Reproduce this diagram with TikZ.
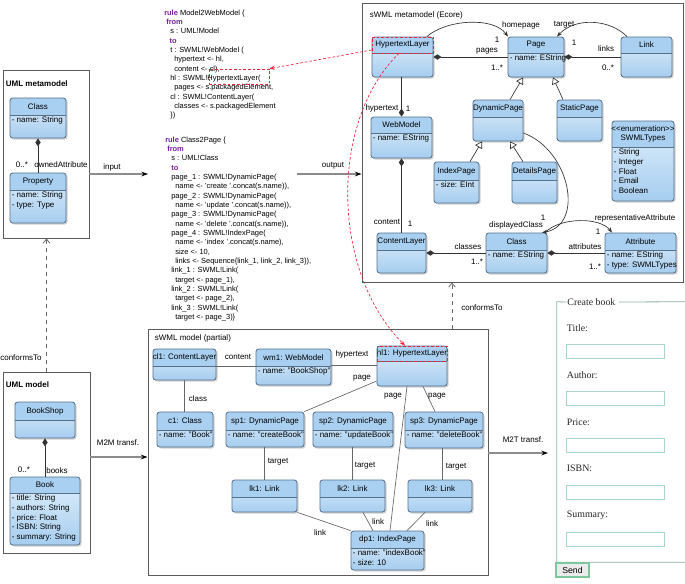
\documentclass[tikz,border=0pt]{standalone}
\usepackage{fontspec}
\setmainfont{Liberation Sans}
\newfontfamily\formfont{Liberation Serif}
\usetikzlibrary{arrows.meta,fit}
\definecolor{bordc}{HTML}{56708C}
\definecolor{hdrc}{HTML}{A9D0F1}
\definecolor{bodyt}{HTML}{E0EFFB}
\definecolor{bodyb}{HTML}{A6CDEF}
\definecolor{kwc}{HTML}{7B1FA2}
\definecolor{boxc}{HTML}{5A5A5A}
\definecolor{formc}{HTML}{8FB0AC}
\definecolor{inputc}{HTML}{A9D3CD}
\definecolor{sendc}{HTML}{7CC79E}
\definecolor{redc}{HTML}{F0203A}
\newcommand\fs{\fontsize{6}{7.3}\selectfont}
\newcommand\csz{\fontsize{5.6}{7}\selectfont}
\newcommand\kw[1]{\textcolor{kwc}{\bfseries #1}}
\newcommand\ubox[8]{%
\fill[black!18, rounded corners=2pt] ({#2+1.5},{#3+1.5}) rectangle ({#4+1.5},{#5+1.5});
\begin{scope}
\clip[rounded corners=2pt] (#2,#3) rectangle (#4,#5);
\shade[top color=bodyt,bottom color=bodyb] (#2,#3) rectangle (#4,#5);
\fill[hdrc] (#2,#3) rectangle (#4,#6);
\end{scope}
\node[umlb, fit={(#2,#3)(#4,#5)}] (#1) {};
\draw[bordc, line width=0.5pt] (#2,#6) -- (#4,#6);
\node[lbl, align=center] (#1t) at ({(#2+#4)/2},{(#3+#6)/2}) {#7};
\node[lbl, anchor=north west, align=left, inner sep=1.2pt] (#1a) at (#2,#6) {#8};
}
\newcommand\lab[4]{\node[lbl] (#1) at (#2,#3) {#4};}
\tikzset{
 umlb/.style={draw=bordc, line width=0.6pt, rounded corners=2pt, inner sep=0pt},
 lbl/.style={font=\fs, inner sep=0.5pt},
 cont/.style={draw=boxc, line width=0.7pt, inner sep=0pt},
 flow/.style={draw=black!45, line width=0.9pt, -{Stealth[color=black,length=5pt,width=3.5pt]}},
 mline/.style={draw=black!80, line width=0.5pt},
 comp/.style={mline, {Diamond[length=6pt,width=4pt]}-},
 compend/.style={mline, -{Diamond[length=6pt,width=4pt]}},
 inh/.style={mline, -{Triangle[open,length=5pt,width=6pt,fill=white]}},
 assoc/.style={mline, -{Stealth[length=4pt,width=3pt]}},
 inst/.style={draw=black!60, line width=0.5pt},
 conf/.style={draw=black!60, dashed, line width=0.6pt, -{Straight Barb[length=3pt,width=5pt]}},
 redd/.style={draw=redc, line width=0.5pt, dash pattern=on 2pt off 1.5pt},
 inp/.style={draw=inputc, line width=0.6pt, fill=white, inner sep=0pt},
 formt/.style={font=\formfont\fontsize{7.4}{8}\selectfont, text=black!85, inner sep=0.5pt},
}
\begin{document}
\begin{tikzpicture}[x=0.75pt,y=-0.75pt]
\useasboundingbox (0,0) rectangle (685,583);
\fill[white] (0,0) rectangle (685,583);
% containers
\node[cont, fit={(3,70)(89,238)}] (umlmm) {};
\node[cont, fit={(3,372)(90,553)}] (umlm) {};
\node[cont, fit={(362,3)(683,282)}] (swmlmm) {};
\node[cont, fit={(148,329)(488,575)}] (swm) {};
\node[lbl, anchor=west, font=\fs\bfseries] (t1) at (5,84) {UML metamodel};
\node[lbl, anchor=west, font=\fs\bfseries] (t2) at (5,385) {UML model};
\node[lbl, anchor=west] (t3) at (369,15) {sWML metamodel (Ecore)};
\node[lbl, anchor=west] (t4) at (154,338) {sWML model (partial)};
% UML metamodel
\ubox{mClass}{10}{98}{66}{138}{115}{Class}{- name: String}
\ubox{mProp}{10}{173}{66}{223}{190}{Property}{- name: String\\- type: Type}
\draw[comp] (mClass.south) -- (mProp.north);
\lab{l1}{22}{165}{0..*}
\lab{l2}{61}{165}{ownedAttribute}
% UML model
\ubox{bShop}{15}{402}{75}{438}{420}{BookShop}{}
\ubox{bBook}{10}{477}{80}{545}{493}{Book}{- title: String\\- authors: String\\- price: Float\\- ISBN: String\\- summary: String}
\draw[comp] (bShop.south) -- (bShop.south |- bBook.north);
\lab{l3}{24}{470}{0..*}
\lab{l4}{57}{471}{books}
% flows
\coordinate (inEnd) at (148,174);
\draw[flow] (umlmm.east |- inEnd) -- (inEnd);
\lab{l5}{112}{167}{input}
\coordinate (outStart) at (297,174);
\draw[flow] (outStart) -- (swmlmm.west |- outStart);
\lab{l6}{333}{166}{output}
\coordinate (m2m) at (120,457);
\draw[flow] (umlm.east |- m2m) -- (swm.west |- m2m);
\lab{l7}{118}{443}{M2M transf.}
\coordinate (m2tEnd) at (548,453);
\draw[flow] (swm.east |- m2tEnd) -- (m2tEnd);
\lab{l8}{523}{440}{M2T transf.}
\draw[conf] (umlm.north) -- (umlm.north |- umlmm.south);
\lab{l9}{21}{358}{conformsTo}
\coordinate (cf2) at (452,300);
\draw[conf] (swm.north -| cf2) -- (swmlmm.south -| cf2);
\lab{l10}{482}{308}{conformsTo}
% code
\node[font=\csz, anchor=north west, inner sep=0pt, align=left] (code1) at (164,9.5) {%
\kw{rule} Model2WebModel \{\\
\hspace*{1.5pt}\kw{from}\\
\hspace*{4.5pt}s : UML!Model\\
\hspace*{4pt}\kw{to}\\
\hspace*{4.5pt}t : SWML!WebModel (\\
\hspace*{7.5pt}hypertext <- hl,\\
\hspace*{7.5pt}content <- cl),\\
\hspace*{4.5pt}hl : SWML!HypertextLayer(\\
\hspace*{7.5pt}pages <- s.packagedElement,\\
\hspace*{4.5pt}cl : SWML!ContentLayer(\\
\hspace*{7.5pt}classes <- s.packagedElement\\
\hspace*{4.5pt}\})};
\node[font=\csz, anchor=north west, inner sep=0pt, align=left] (code2) at (165,136.5) {%
\kw{rule} Class2Page \{\\
\hspace*{1.5pt}\kw{from}\\
\hspace*{4.5pt}s : UML!Class\\
\hspace*{4.5pt}\kw{to}\\
\hspace*{4.5pt}page\_1 : SWML!DynamicPage(\\
\hspace*{7.5pt}name <- 'create '.concat(s.name)),\\
\hspace*{4.5pt}page\_2 : SWML!DynamicPage(\\
\hspace*{7.5pt}name <- 'update '.concat(s.name)),\\
\hspace*{4.5pt}page\_3 : SWML!DynamicPage(\\
\hspace*{7.5pt}name <- 'delete '.concat(s.name)),\\
\hspace*{4.5pt}page\_4 : SWML!IndexPage(\\
\hspace*{7.5pt}name <- 'index '.concat(s.name),\\
\hspace*{7.5pt}size <- 10,\\
\hspace*{7.5pt}links <- Sequence\{link\_1, link\_2, link\_3\}),\\
\hspace*{4.5pt}link\_1 : SWML!Link(\\
\hspace*{7.5pt}target <- page\_1),\\
\hspace*{4.5pt}link\_2 : SWML!Link(\\
\hspace*{7.5pt}target <- page\_2),\\
\hspace*{4.5pt}link\_3 : SWML!Link(\\
\hspace*{7.5pt}target <- page\_3)\}};
% sWML metamodel
\ubox{htl}{372}{37}{433}{77}{53}{HypertextLayer}{}
\ubox{page}{508}{37}{564}{77}{53}{Page}{- name: EString}
\ubox{link}{621}{37}{672}{77}{53}{Link}{}
\ubox{webm}{371}{117}{432}{158}{133}{WebModel}{- name: EString}
\ubox{dynp}{473}{100}{523}{141}{117}{DynamicPage}{}
\ubox{statp}{557}{100}{602}{141}{117}{StaticPage}{}
\ubox{idxp}{434}{162}{479}{203}{180}{IndexPage}{- size: EInt}
\ubox{detp}{512}{162}{557}{203}{180}{DetailsPage}{}
\ubox{swt}{612}{121}{674}{201}{147}{<{}<enumeration>{}>\\SWMLTypes}{- String\\- Integer\\- Float\\- Email\\- Boolean}
\ubox{conl}{377}{233}{426}{273}{250}{ContentLayer}{}
\ubox{clsm}{486}{233}{547}{273}{250}{Class}{- name: EString}
\ubox{attr}{605}{233}{676}{273}{250}{Attribute}{- name: EString\\- type: SWMLTypes}
\draw[comp] (htl.east) -- (page.west);
\draw[comp] (page.east) -- (link.west);
\draw[compend] (htl.south -| webm.north) -- (webm.north);
\draw[comp] (webm.south) -- (webm.south |- conl.north);
\draw[comp] (conl.east) -- (clsm.west);
\draw[comp] (clsm.east) -- (attr.west);
\draw[inh] (dynp.north -| 510,0) -- (page.south -| 523,0);
\draw[inh] (statp.north -| 563,0) -- (page.south -| 553,0);
\draw[inh] (idxp.north -| 470,0) -- (dynp.south -| 482,0);
\draw[inh] (detp.north -| 523,0) -- (dynp.south -| 510,0);
\draw[assoc] (htl.north -| 427,0) .. controls (445,20) and (493,16) .. (page.north -| 508,0);
\draw[assoc] (link.north -| 627,0) .. controls (610,19) and (575,17) .. (page.north -| 557,0);
\draw[assoc] (dynp.east |- 0,133) .. controls (570,150) and (585,225) .. (clsm.north -| 542,0);
\draw[assoc] (clsm.north -| 545,0) .. controls (560,217) and (600,217) .. (attr.north -| 612,0);
\lab{m1}{521}{25}{homepage}
\lab{m2}{564}{25}{target}
\lab{m3}{497}{40}{1}
\lab{m4}{487}{51}{pages}
\lab{m5}{497}{68}{1..*}
\lab{m6}{574}{43}{1}
\lab{m7}{606}{49}{links}
\lab{m8}{608}{68}{0..*}
\lab{m9}{382}{108}{hypertext}
\lab{m10}{408}{109}{1}
\lab{m11}{387}{222}{content}
\lab{m12}{410}{224}{1}
\lab{m13}{468}{247}{classes}
\lab{m14}{477}{262}{1..*}
\lab{m15}{516}{225}{displayedClass}
\lab{m16}{543}{218}{1}
\lab{m17}{635}{218}{representativeAttribute}
\lab{m18}{598}{232}{1}
\lab{m19}{585}{247}{attributes}
\lab{m20}{595}{267}{1..*}
% sWML model
\ubox{cl1}{153}{349}{216}{380}{366}{cl1: ContentLayer}{}
\ubox{wm1}{256}{349}{331}{385}{366}{wm1: WebModel}{- name: "BookShop"}
\ubox{hl1}{377}{346}{447}{386}{361}{hl1: HypertextLayer}{}
\ubox{c1}{157}{412}{213}{447}{430}{c1: Class}{- name: "Book"}
\ubox{sp1}{226}{412}{304}{447}{430}{sp1: DynamicPage}{- name: "createBook"}
\ubox{sp2}{313}{412}{393}{447}{430}{sp2: DynamicPage}{- name: "updateBook"}
\ubox{sp3}{405}{412}{483}{448}{430}{sp3: DynamicPage}{- name: "deleteBook"}
\ubox{lk1}{232}{480}{297}{512}{497}{lk1: Link}{}
\ubox{lk2}{320}{480}{385}{512}{497}{lk2: Link}{}
\ubox{lk3}{408}{480}{472}{512}{497}{lk3: Link}{}
\ubox{dp1}{351}{531}{424}{570}{548}{dp1: IndexPage}{- name: "indexBook"\\- size: 10}
\draw[inst] (cl1.east |- 0,366) -- (wm1.west |- 0,366);
\draw[inst] (wm1.east |- 0,365) -- (hl1.west |- 0,365);
\draw[inst] (cl1.south) -- (cl1.south |- c1.north);
\draw[inst] (hl1.west |- 0,381) -- (sp1.north east);
\draw[inst] (hl1.south -| 407,0) -- (dp1.north -| 390,0);
\draw[inst] (hl1.south -| 423,0) -- (sp3.north -| 435,0);
\draw[inst] (sp1.south -| lk1.north) -- (lk1.north);
\draw[inst] (sp2.south -| 352,0) -- (lk2.north -| 352,0);
\draw[inst] (sp3.south -| 442,0) -- (lk3.north -| 442,0);
\draw[inst] (lk1.south east) -- (dp1.north west);
\draw[inst] (lk2.south -| 363,0) -- (dp1.north -| 373,0);
\draw[inst] (lk3.south -| 425,0) -- (dp1.north -| 407,0);
\lab{n1}{238}{357}{content}
\lab{n2}{352}{354}{hypertext}
\lab{n3}{198}{399}{class}
\lab{n4}{362}{378}{page}
\lab{n5}{393}{396}{page}
\lab{n6}{437}{396}{page}
\lab{n7}{278}{462}{target}
\lab{n8}{365}{466}{target}
\lab{n9}{456}{467}{target}
\lab{n10}{320}{533}{link}
\lab{n11}{378}{522}{link}
\lab{n12}{432}{524}{link}
% red traces
\node[redd, fit={(209,69)(269,84)}, inner sep=0pt] (hlcode) {};
\node[redd, fit={(372,37)(433,53)}, inner sep=0pt] (htlmark) {};
\node[redd, fit={(377,346)(447,361)}, inner sep=0pt] (hl1mark) {};
\draw[redd, -{Stealth[length=4pt,width=3pt,color=redc]}] (htlmark.west |- 0,50) -- (hlcode.north east);
\draw[redd, -{Stealth[length=4pt,width=3pt,color=redc]}] (htlmark.south -| 399,0) .. controls (330,120) and (330,270) .. (hl1mark.north -| 405,0);
% form
\node[fit={(557,302)(685,562)}, inner sep=0pt] (form) {};
\draw[formc, line width=0.6pt] (566,302) -- (form.north west) -- (form.south west) -- (form.south east);
\draw[formc, line width=0.6pt] (619,302) -- (form.north east);
\node[formt, anchor=west] (legend) at (566.5,302) {Create book};
\node[formt, anchor=west] (f1) at (566,328) {Title:};
\node[inp, fit={(566,344)(664,358)}] (in1) {};
\node[formt, anchor=west] (f2) at (566,375) {Author:};
\node[inp, fit={(566,391)(664,405)}] (in2) {};
\node[formt, anchor=west] (f3) at (566,422) {Price:};
\node[inp, fit={(566,438)(664,452)}] (in3) {};
\node[formt, anchor=west] (f4) at (566,468) {ISBN:};
\node[inp, fit={(566,485)(664,499)}] (in4) {};
\node[formt, anchor=west] (f5) at (566,515) {Summary:};
\node[inp, fit={(566,532)(664,546)}] (in5) {};
\node[draw=sendc, fill=black!8, line width=0.8pt, inner sep=0pt, fit={(556,563)(589,577)}] (sendb) {};
\node[lbl, font=\fontsize{6.5}{7}\selectfont] (sendt) at (sendb.center) {Send};
\end{tikzpicture}
\end{document}
